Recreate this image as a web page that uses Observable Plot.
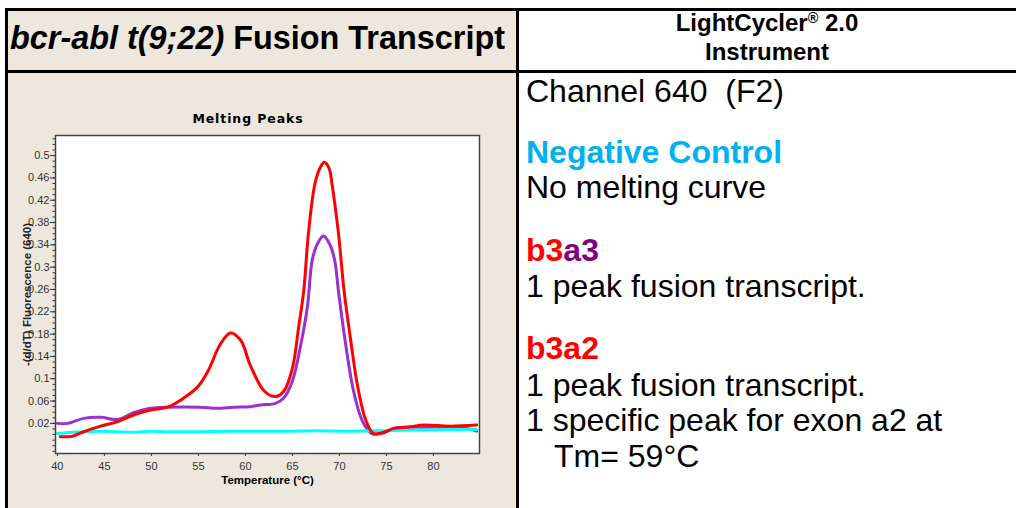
<!DOCTYPE html>
<html><head><meta charset="utf-8">
<script src="https://cdn.jsdelivr.net/npm/d3@7"></script>
<script src="https://cdn.jsdelivr.net/npm/@observablehq/plot@0.6"></script>
<style>
html,body{margin:0;padding:0;background:#fff;width:1016px;height:508px;overflow:hidden;font-family:"Liberation Sans",Arial,sans-serif;color:#000;}
.abs{position:absolute;white-space:nowrap;}
.ln{position:absolute;background:#000;}
.t32{font-size:32px;line-height:32px;left:526px;}
.hdr{font-size:24px;line-height:24px;font-weight:bold;left:519px;width:496px;text-align:center;}
</style></head><body>
<div class="abs" style="left:8px;top:11px;width:508px;height:59px;background:#EEE7DE"></div>
<div class="abs" style="left:8px;top:73px;width:508px;height:435px;background:#EEE7DE"></div>
<div id="chart" class="abs" style="left:0;top:100px"></div>

<div class="ln" style="left:5px;top:8px;width:1011px;height:3px"></div>
<div class="ln" style="left:5px;top:70px;width:1011px;height:3px"></div>
<div class="ln" style="left:5px;top:8px;width:3px;height:500px"></div>
<div class="ln" style="left:516px;top:8px;width:3px;height:500px"></div>

<div class="abs" style="left:10px;top:22px;font-size:32.4px;line-height:32px;font-weight:bold;"><i>bcr-abl t(9;22)</i> Fusion Transcript</div>
<div class="abs hdr" style="top:11px">LightCycler<span style="position:relative;top:-0.55em;font-size:0.6em">®</span> 2.0</div>
<div class="abs hdr" style="top:40px">Instrument</div>

<div class="abs t32" style="top:75px">Channel 640&nbsp; (F2)</div>
<div class="abs t32" style="top:136px;font-weight:bold;color:#00B0F0">Negative Control</div>
<div class="abs t32" style="top:171px">No melting curve</div>
<div class="abs t32" style="top:234px;font-weight:bold"><span style="color:#FF0000">b3</span><span style="color:#800080">a3</span></div>
<div class="abs t32" style="top:270px">1 peak fusion transcript.</div>
<div class="abs t32" style="top:332px;font-weight:bold;color:#FF0000">b3a2</div>
<div class="abs t32" style="top:369px">1 peak fusion transcript.</div>
<div class="abs t32" style="top:404px">1 specific peak for exon a2 at</div>
<div class="abs t32" style="top:440px;left:554px">Tm= 59°C</div>

<script>
// b3a2 (red)
const redT = [40.3,41.6,42.8,44.6,46.4,48.1,49.9,51.7,53.4,54.9,56.0,57.3,58.4,59.5,60.5,62.0,63.2,64.1,65.0,65.7,66.2,66.7,67.4,68.0,68.4,68.9,69.2,69.9,70.5,71.2,71.9,72.8,73.6,74.5,75.8,77.6,79.0,81.8,84.6];
const redV = [-0.004,-0.003,0.005,0.015,0.023,0.035,0.044,0.049,0.065,0.085,0.113,0.161,0.182,0.169,0.125,0.078,0.068,0.078,0.119,0.197,0.257,0.36,0.45,0.48,0.488,0.477,0.45,0.36,0.257,0.169,0.09,0.026,0.002,0.003,0.011,0.014,0.017,0.015,0.017];
// b3a3 (purple)
const purpleT = [40.0,41.1,42.8,44.6,46.4,48.1,49.9,51.7,55.2,57.0,58.8,60.5,61.6,63.2,64.1,65.0,65.9,66.6,67.1,67.6,68.3,69.0,69.5,69.9,70.6,71.5,72.4,73.4,74.5,75.8,78.3,81.8,83.5,84.6];
const purpleV = [0.020,0.020,0.029,0.031,0.027,0.039,0.047,0.049,0.049,0.047,0.049,0.050,0.053,0.056,0.066,0.096,0.162,0.23,0.312,0.34,0.356,0.34,0.312,0.257,0.169,0.078,0.026,0.002,0.002,0.011,0.013,0.013,0.011,0.006];
// Negative control (cyan)
const cyanT = [40.0,42.8,44.6,46.4,48.1,49.9,51.7,55.2,58.8,60.5,64.1,67.6,71.2,74.7,78.3,81.8,84.6];
const cyanV = [0.002,0.005,0.006,0.005,0.004,0.006,0.005,0.005,0.006,0.006,0.006,0.007,0.006,0.007,0.008,0.009,0.009];

const xTicks = [40,45,50,55,60,65,70,75,80];
const yTicks = [0.02,0.06,0.1,0.14,0.18,0.22,0.26,0.3,0.34,0.38,0.42,0.46,0.5];
const titleText = "Melting Peaks";
const xLabel = "Temperature (°C)";
const yLabel = "-(d/dT) Fluorescence (640)";

const rows = (T, V) => T.map((t, i) => ({t, v: V[i]}));
const minorTicks = d3.range(-3, 54).map(i => i / 100);
const font = "Liberation Sans, Arial, sans-serif";

const plot = Plot.plot({
  width: 500, height: 400,
  marginLeft: 55, marginRight: 21, marginTop: 35, marginBottom: 47,
  style: {background: "transparent", fontFamily: font, fontSize: "11px", color: "#333", overflow: "visible"},
  x: {domain: [39.8, 84.9]},
  y: {domain: [-0.034, 0.536]},
  marks: [
    Plot.frame({fill: "white", stroke: null}),
    Plot.axisY({ticks: minorTicks, tickSize: 2.5, tickFormat: () => "", label: null}),
    Plot.axisY({ticks: yTicks, tickSize: 5, tickPadding: 1, tickFormat: d => String(+d.toFixed(2)), label: null}),
    Plot.axisX({ticks: xTicks, tickSize: 3, tickPadding: 6, label: null}),
    Plot.line(rows(purpleT, purpleV), {x: "t", y: "v", stroke: "#9B30D0", strokeWidth: 3, curve: "catmull-rom"}),
    Plot.line(rows(cyanT, cyanV), {x: "t", y: "v", stroke: "#00FFFF", strokeWidth: 3, curve: "catmull-rom"}),
    Plot.line(rows(redT, redV), {x: "t", y: "v", stroke: "#FF0000", strokeWidth: 3, curve: "catmull-rom"}),
    Plot.frame({stroke: "#444", strokeWidth: 1.5}),
    Plot.text([titleText], {frameAnchor: "top", textAnchor: "middle", lineAnchor: "middle", dy: -16.5, dx: -19.5, fontWeight: "bold", fontSize: 12.5, fontFamily: "DejaVu Sans, sans-serif", fill: "#000"}),
    Plot.text([yLabel], {frameAnchor: "left", textAnchor: "middle", lineAnchor: "middle", rotate: -90, dx: -28, fontWeight: "bold", fontSize: 11.5, fill: "#222"}),
    Plot.text([xLabel], {frameAnchor: "bottom", textAnchor: "middle", lineAnchor: "middle", dy: 27, fontWeight: "bold", fontSize: 11.5, fill: "#000"})
  ]
});
d3.select(plot).selectAll("text").filter(function() { return this.textContent === titleText; }).attr("letter-spacing", "0.9px");
document.getElementById("chart").appendChild(plot);
</script>
</body></html>
